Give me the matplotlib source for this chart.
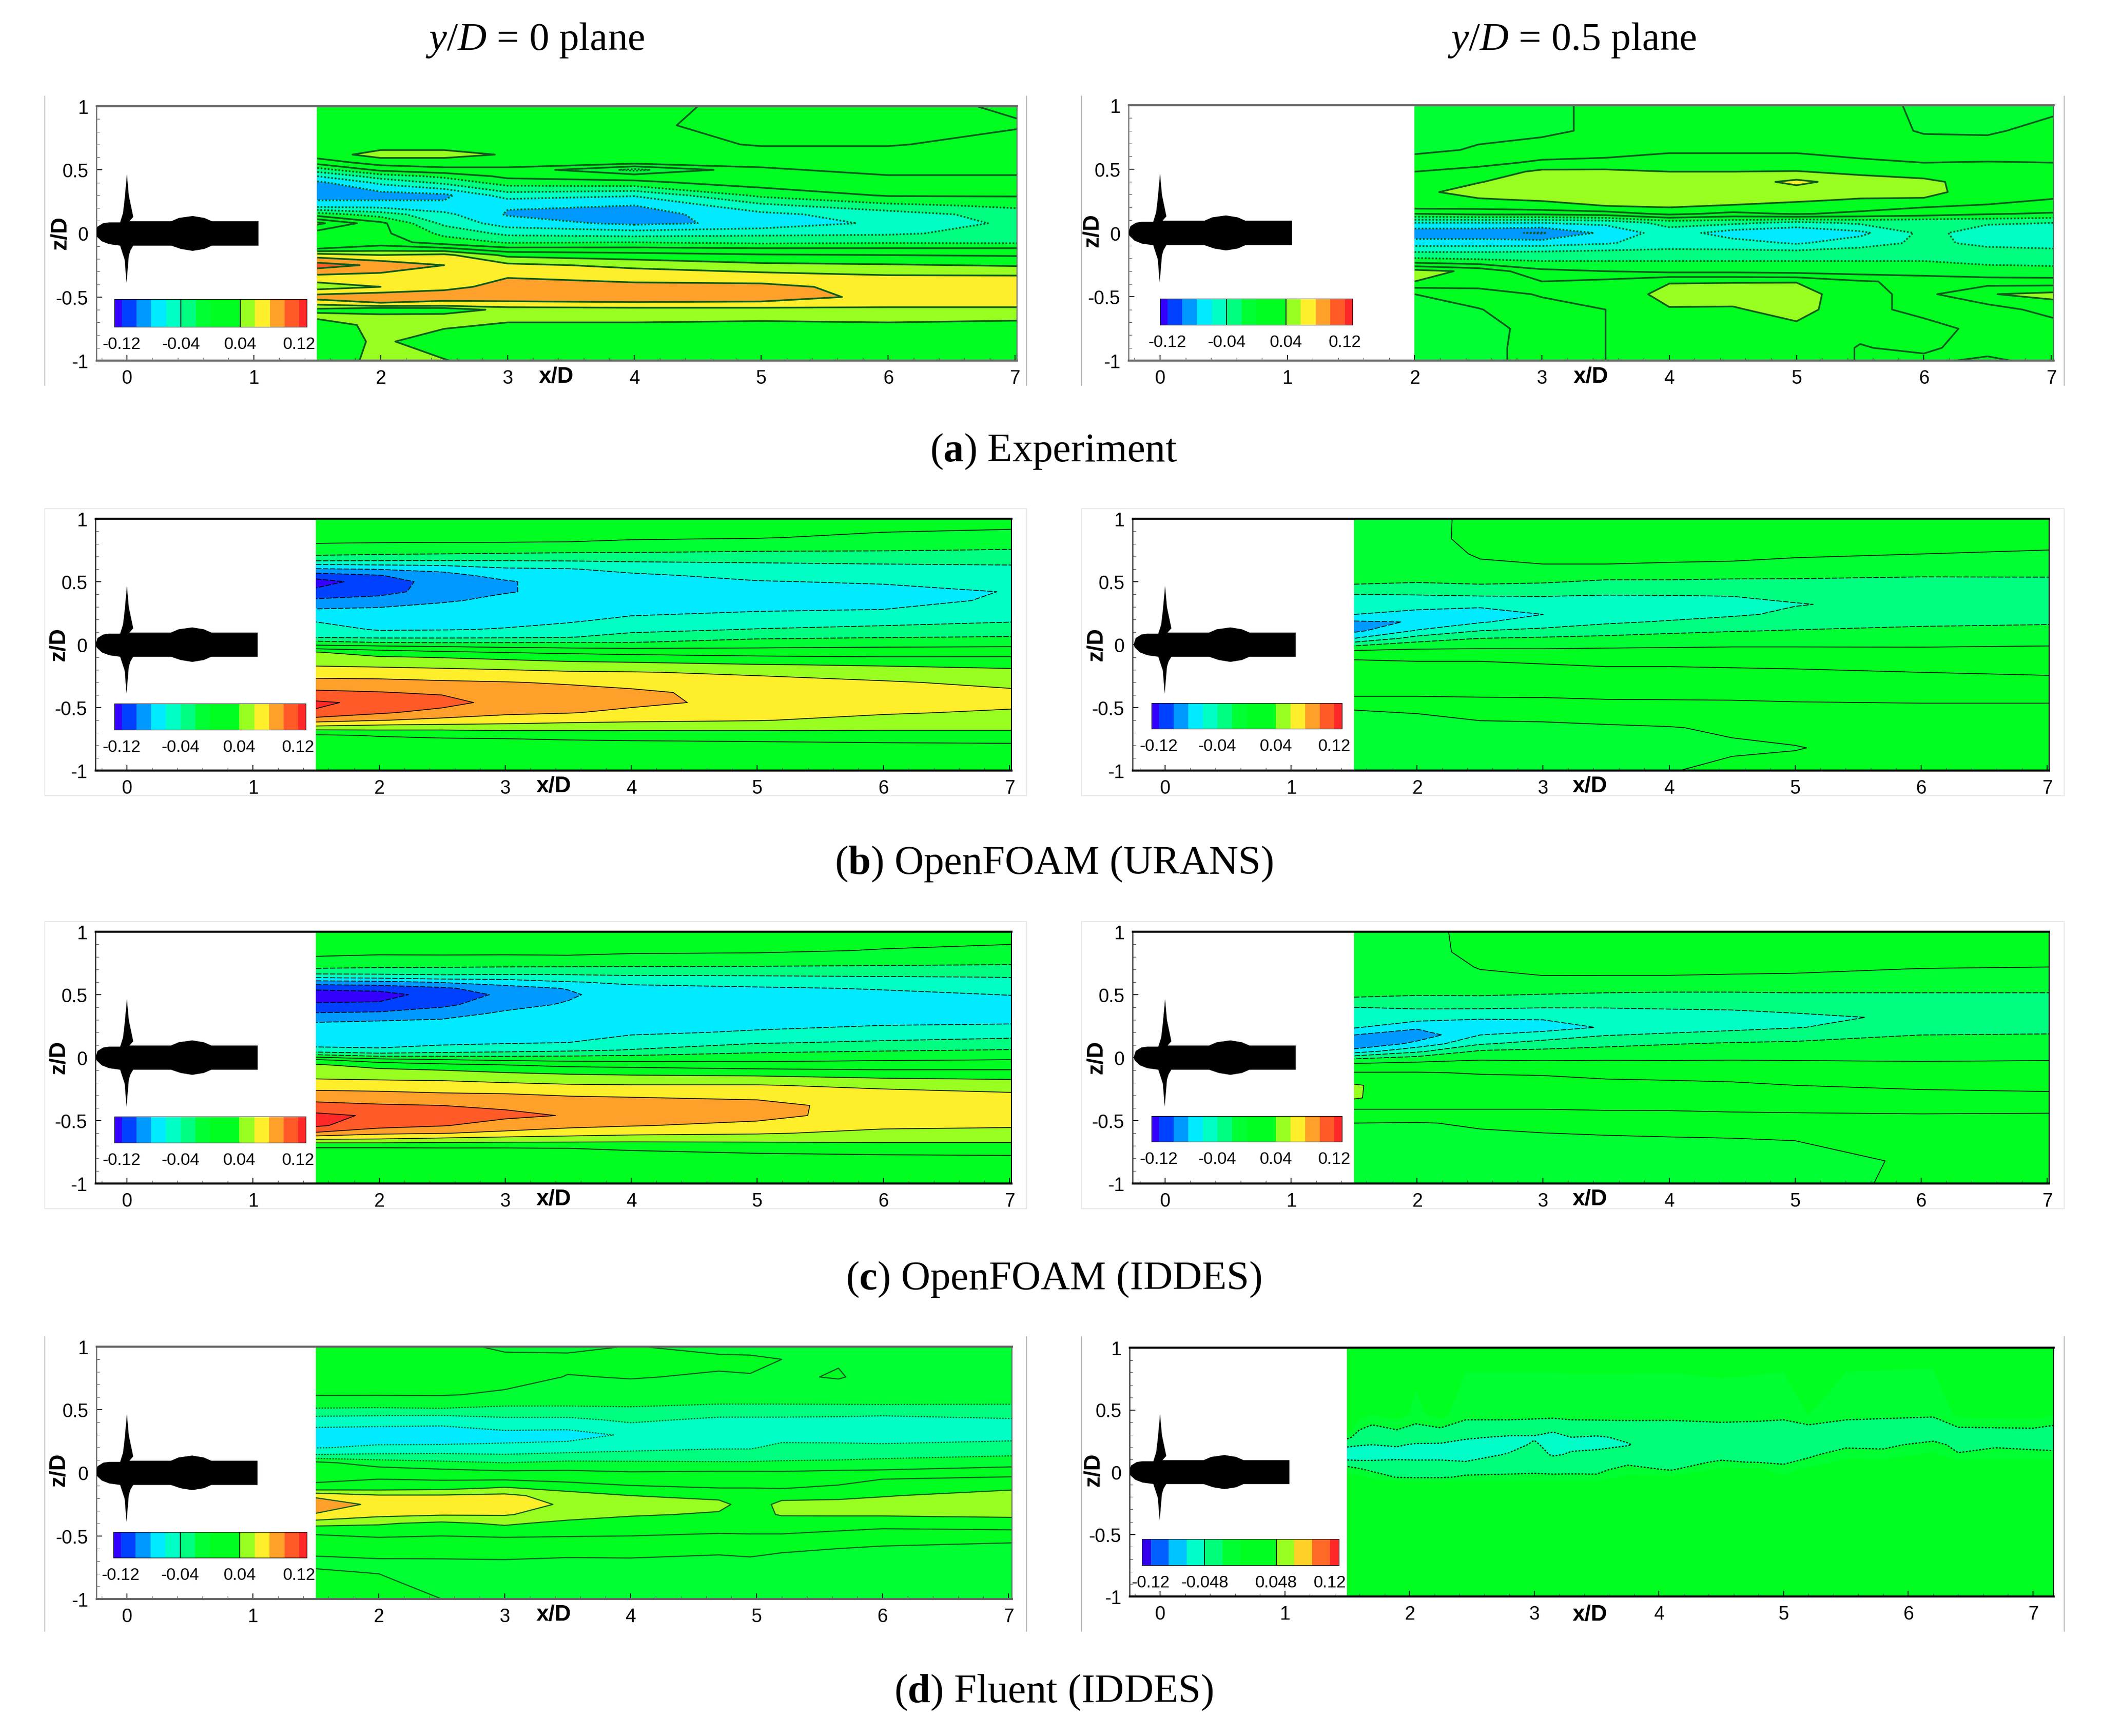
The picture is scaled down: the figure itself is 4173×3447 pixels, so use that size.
import numpy as np
import matplotlib
matplotlib.use('Agg')
import matplotlib.pyplot as plt
from matplotlib.lines import Line2D
from matplotlib.patches import Rectangle

plt.rcParams['font.family'] = ['Liberation Sans', 'DejaVu Sans']
plt.rcParams['axes.unicode_minus'] = False
plt.rcParams['mathtext.fontset'] = 'custom'
plt.rcParams['mathtext.rm'] = 'Liberation Serif'
plt.rcParams['mathtext.it'] = 'Liberation Serif:italic'
plt.rcParams['mathtext.bf'] = 'Liberation Serif:bold'

W, H = 4173, 3448

# band edges and colours (field values are in hundredths below)
LEVELS = [-0.12, -0.10, -0.08, -0.06, -0.04, -0.02, 0, 0.02, 0.04, 0.06, 0.08, 0.10, 0.12]
COLOURS = ['#3300ff', '#0040ff', '#0099ff', '#00ebff', '#00ffc4', '#00ff80', '#00ff33',
           '#00ff20', '#00ff20', '#99ff20', '#ffee2a', '#ffa02a', '#ff5a28', '#ff2828']
LEVELS_D = [-0.12, -0.096, -0.072, -0.048, -0.024, 0, 0.024, 0.048, 0.072, 0.096, 0.12]
COLOURS_D = ['#3300ee', '#0060ff', '#00c4ff', '#00ffc8', '#00ff78', '#00ff30',
             '#00ff20', '#00ff20', '#99ff20', '#ffd028', '#ff6a28', '#ff2828']

# propeller and hull outline, x/D and z/D
BODY_X = [-0.25, -0.233, -0.187, -0.141, -0.054, -0.031, -0.018, 0.0, 0.015, 0.05, 0.02, 0.058, 0.349, 0.41, 0.518,
          0.61, 0.67, 1.037, 1.037, 0.67, 0.61, 0.518, 0.426, 0.349, 0.05, 0.028, 0.015, -0.003, -0.018, -0.054,
          -0.141, -0.2, -0.24]
BODY_Z = [0.0, 0.053, 0.081, 0.087, 0.087, 0.16, 0.27, 0.466, 0.298, 0.13, 0.096, 0.096, 0.096, 0.122, 0.137,
          0.122, 0.096, 0.096, -0.096, -0.096, -0.122, -0.137, -0.122, -0.096, -0.096, -0.133, -0.176, -0.389,
          -0.206, -0.096, -0.084, -0.061, -0.023]

# (a) experiment, y/D = 0
A_LEFT_X = [1.5, 2, 2.5, 3, 4, 5, 6, 7.05]
A_LEFT_Z = [1, .85, .7, .62, .56, .5, .45, .4, .3, .22, .15, .08, 0, -.07, -.12, -.17, -.25, -.35, -.42, -.5, -.56, -.6,
            -.65, -.72, -.85, -1]
A_LEFT_U = [
    [3, 3, 3, 3, 1, -3, -6, -8.5, -9, -7, -1, 4.5, 1, 1, 2, 7, 11, 7, 5, 9, 6, 3.5, 4.5, 3, 3, 3],
    [3, 3, 3, 4.8, 3, .5, -3, -5.5, -9, -7, -3, .5, .5, 1, 3, 6, 9.5, 7, 6, 9.5, 7.5, 2, 4.8, 4.6, 4.3, 4.5],
    [3, 3, 3, 4.8, 3, 1.5, -1.5, -3.5, -8.5, -7.5, -5.5, -4.5, -2.5, -1, 2.5, 6.5, 8, 7, 7.5, 9, 7, 2.5, 4.8, 4.3, 3, 4.1],
    [3, 3, 3, 3.8, 3, 1.5, .5, -1, -5, -7.8, -8.2, -7, -4.5, -2.2, .5, 3.5, 6.5, 8, 8.6, 9, 7.2, 4.8, 4.5, 3.8, 3, 3],
    [3, 2.5, 3, 3, 3, -2.5, 1, -.5, -5.8, -8, -9, -8.5, -5, -2, .5, 2.8, 5.5, 7.5, 8.5, 9, 7.5, 5, 4.5, 3.8, 3, 3],
    [1, 1, 1.8, 3, 3, 1.5, 1, 1, -1.5, -4.5, -6.5, -7.5, -4.5, -2.5, .2, 2.2, 4.5, 7.2, 8.5, 8.7, 7.5, 5, 4.5, 3.6, 3, 3],
    [1, 1, 1.8, 3, 3, 3, 1.8, 1.2, .2, -2.5, -5, -5.5, -4.3, -2.3, .2, 2, 4.2, 6.5, 7.3, 7.6, 7, 5, 4.5, 3.8, 3, 3],
    [2.5, 1.8, 3, 3, 3, 3, 1.8, 1, .2, -1.5, -3, -3.5, -3.2, -2.4, .2, 1.8, 3.8, 6.5, 7.2, 7.5, 7, 5, 4.5, 3.5, 3, 3],
]

# (a) experiment, y/D = 0.5
A_RIGHT_X = [2, 2.5, 3, 3.5, 4, 4.5, 5, 5.5, 6, 6.5, 7.05]
A_RIGHT_Z = [1, .8, .65, .55, .48, .4, .32, .26, .2, .15, .08, 0, -.08, -.15, -.22, -.3, -.38, -.48, -.6, -.75, -.9, -1]
A_RIGHT_U = [
    [-.5, -.5, -.5, 1, 2, 2.5, 3.5, 3.2, 2.5, 0, -6, -9.5, -7, -4, -1, 4.8, 4, 0, -.5, -.5, -.5, -.5],
    [-.5, -.5, .2, 1.5, 2.6, 3.9, 4.8, 3.8, 2.5, .5, -6, -9.5, -7, -4, -1.5, 3.5, 3.2, 1, -.1, -.5, -.5, -.5],
    [-.5, -.5, 1, 2.3, 4.5, 5, 5, 4.2, 3, .5, -6, -10.2, -7, -3.8, -2, .5, 2, 2.2, 1.2, .5, .6, .6],
    [.5, .5, 1.2, 2.5, 4.5, 5, 5, 4.8, 3.8, 1, -5.5, -7.5, -6.2, -3.5, -2, 0, 2.5, 3, 2, 2, 2, 2],
    [1, 1, 1.8, 2.6, 4, 5, 5.5, 5, 4, 2.5, -3.2, -5, -5, -3.5, -2, -.5, 3.9, 4.5, 3.9, 3, 3, 3],
    [1, 1, 1.8, 2.6, 4, 5, 5.5, 5, 3.5, 1.5, -3.5, -7, -5.2, -3.5, -2, -.5, 3.9, 4.8, 3.8, 3, 3, 3],
    [1, 1, 1.8, 2.6, 4.1, 6.5, 5, 4.4, 3, 2.2, -4.5, -7.8, -6.2, -3.5, -2, -.8, 3.9, 5, 4.8, 3.5, 3, 3],
    [1, 1, 1.2, 2.4, 3.5, 5, 5, 3.8, 2.8, 1.5, -3.6, -6.5, -5, -3, -2, -1, 2.2, 2.5, 2.5, 2.4, 1.9, 1.9],
    [-.5, -.2, 1, 2, 3, 4.5, 4.6, 3.8, 2, 1, -3.8, -3.5, -3.5, -3, -2, -1.2, 1.5, 1.5, 1.5, 2.6, 2.4, 1.5],
    [-.5, -.3, 1, 2.1, 2.5, 3, 3, 2.8, 1.5, .2, -3.8, -4.8, -4.5, -3.3, -2.3, -1.5, 1, 3.9, 1, 1.5, 1, 2.5],
    [-.5, .8, 1, 2, 2.5, 3, 3, 1.8, 1.2, -.3, -4, -5.5, -4.8, -3.5, -2.5, -1.5, .8, 4.6, 3, 1, 1, 1],
]

# (b), (c) OpenFOAM, y/D = 0
OF_LEFT_X = [1.5, 2, 2.5, 3, 3.5, 4, 5, 6, 7.05]
OF_LEFT_Z = [1, .85, .75, .68, .64, .6, .55, .5, .42, .35, .28, .2, .12, .06, .02, -.02, -.06, -.1, -.16, -.22, -.3, -.38,
             -.46, -.54, -.6, -.64, -.68, -.72, -.8, -1]
B_LEFT_U = [
    [1, .5, -.6, -3, -5.8, -8.2, -11, -12.8, -11.5, -9.6, -7.9, -6.3, -5.1, -4.2, -1.5, 1, 4.1, 5, 5.8, 7, 8.7, 10.4, 12.3, 11.8, 8.9, 6.4, 3.8, 1.8, 1.2, 1],
    [1, .6, -.9, -3.2, -5.6, -7.9, -10.1, -11, -10.8, -9.1, -7.7, -6.9, -6.2, -4.4, -2.2, .7, 2.9, 4.2, 5.6, 6.9, 8.6, 10.1, 11.5, 10.3, 8.1, 5.9, 3.9, 2.1, 1.2, 1],
    [1, .6, -1, -3.4, -5.4, -7.5, -8.6, -9.2, -9, -8.2, -7.4, -6.8, -6.1, -4.4, -2.3, .3, 2.3, 3.9, 5.4, 6.7, 8.3, 9.7, 10.9, 9.2, 7.5, 5.7, 3.9, 2.3, 1.2, 1],
    [1, .7, -1.2, -3.5, -5, -6.3, -7.4, -8.2, -8.1, -7.6, -7.2, -6.5, -5.9, -4.3, -2.2, -.1, 1.9, 3.5, 5.1, 6.5, 8.1, 9, 9.1, 8.4, 7, 5.6, 4.1, 2.4, 1.2, 1],
    [1, .7, -1.4, -3.5, -4.8, -6.1, -6.6, -7.2, -7.6, -7.5, -7, -6.4, -5.2, -4.1, -2.1, -.3, 1.6, 3, 4.8, 6.2, 7.8, 8.7, 8.7, 8.1, 6.6, 5.4, 4.1, 2.6, 1.3, 1],
    [1, .3, -1.5, -3.4, -4.5, -5.5, -6.3, -6.8, -7.4, -7.3, -6.7, -5.6, -4.5, -3.3, -2.1, -.4, 1.3, 2.8, 4.6, 6.1, 7.5, 8.3, 8.4, 7.6, 6.3, 5.4, 4.1, 2.8, 1.3, 1],
    [1, .1, -1.8, -3.4, -4.2, -4.8, -5.5, -6.1, -6.8, -6.8, -6.2, -5.2, -3.9, -2.4, -1.3, -.2, 1.1, 2.3, 4.1, 5.7, 6.6, 7.4, 7.5, 7, 6.1, 5.1, 4.1, 3, 1.4, 1],
    [1, -.4, -1.9, -3.3, -4, -4.5, -5.2, -5.8, -6.6, -6.6, -6, -4.8, -3.5, -2.1, -1.1, 0, 1, 2.1, 3.8, 5, 6.2, 6.8, 6.9, 6.2, 5.4, 4.7, 4, 3.1, 1.6, 1],
    [1, -.8, -2.1, -3.3, -3.95, -4.2, -4.7, -5.2, -5.9, -5.7, -5, -4.3, -3.1, -1.9, -1, .1, 1.1, 2.1, 3.5, 4.5, 5.5, 6.3, 6.5, 5.7, 5, 4.5, 4, 3.2, 1.7, 1],
]
C_LEFT_U = [
    [1, .5, -.6, -3, -5.6, -8.8, -11.7, -12.8, -11.8, -9.8, -8, -7, -6.7, -5.5, -1.7, 2.4, 4.3, 5, 5.8, 7.1, 8.9, 10.6, 12.5, 12.3, 9.7, 6.6, 3.8, 1.8, 1.2, 1],
    [1, .5, -1, -3, -5.3, -8.5, -11.4, -12.7, -11.7, -9.6, -7.7, -7, -6.5, -5.8, -2.9, 1, 3.2, 4.4, 5.6, 7, 8.7, 10.2, 11.7, 10.8, 8.4, 6.4, 3.8, 1.8, 1.2, 1],
    [1, .6, -1.1, -3, -4.8, -7.8, -10.4, -11.2, -10.5, -8.7, -7.6, -7, -6.4, -5.2, -2.7, .3, 2.6, 4, 5.5, 6.8, 8.4, 10, 11, 10.1, 8.1, 5.9, 3.7, 1.9, 1.2, 1],
    [1, .6, -1.2, -3.1, -4.9, -7.2, -8.7, -9.6, -8.6, -7.7, -7.2, -6.8, -6.2, -4.8, -2.6, -.2, 2.1, 3.5, 5.1, 6.5, 8.3, 9.7, 10.4, 9.2, 7.5, 5.5, 3.6, 1.9, 1.2, 1],
    [1, .7, -1.2, -3.2, -4.7, -6.1, -7.9, -8.3, -7.8, -7.5, -7.1, -6.5, -6, -4.4, -2.4, -.4, 1.5, 3.1, 4.8, 6.2, 7.9, 9.3, 9.9, 8.5, 6.9, 5.3, 3.6, 2, 1.3, 1],
    [1, .4, -1.3, -3.1, -4.4, -5.7, -6.4, -6.9, -7.6, -7.6, -7.1, -6.3, -5.1, -3.9, -2.1, -.5, 1.3, 2.9, 4.6, 6.1, 7.8, 8.9, 9.1, 8.1, 6.5, 5.1, 3.6, 2.2, 1.3, 1],
    [1, .3, -1.4, -3.1, -4.3, -5.3, -6.2, -6.4, -7.2, -7.2, -6.6, -5.8, -4.2, -2.6, -1.5, -.4, .9, 2.4, 4.5, 6.1, 7.6, 8.5, 8.6, 7.5, 6.2, 5, 3.7, 2.6, 1.4, 1],
    [1, -.1, -1.6, -3.1, -4.1, -4.9, -5.9, -6.3, -6.8, -6.8, -6.3, -5.3, -3.7, -2.2, -1.2, -.1, 1, 2.1, 3.9, 5.6, 6.7, 7.3, 7.1, 6.4, 5.5, 4.7, 3.9, 2.9, 1.5, 1],
    [1, -.5, -1.8, -3.1, -3.95, -4.5, -5.2, -5.95, -6.5, -6.6, -6.2, -4.9, -3.3, -1.9, -1, .1, 1.1, 2.1, 3.7, 5, 6.4, 6.8, 6.8, 6.2, 5.4, 4.7, 3.9, 3, 1.6, 1],
]

# (b), (c) OpenFOAM, y/D = 0.5
OF_RIGHT_X = [1.5, 2, 2.5, 3, 3.5, 4, 4.5, 5, 6, 7.05]
OF_RIGHT_Z = [1, .84, .72, .64, .55, .48, .4, .32, .24, .18, .11, .05, -.01, -.05, -.12, -.22, -.32, -.41, -.52, -.66, -.82, -1]
B_RIGHT_U = [
    [-.5, -.6, -.8, -1, -1.6, -2, -4, -5, -6, -8.3, -8.5, -6, -2, .2, 2, 2.8, 2.6, 2, 0, -.4, -.5, -.5],
    [-.5, -.6, -.9, -1.1, -1.6, -2.1, -3.9, -5.3, -6.6, -7.9, -5.8, -3.2, -.7, .4, 1.9, 2.7, 2.6, 2, .1, -.4, -.5, -.5],
    [.4, .5, .2, -.2, -1.3, -2, -3.7, -5.4, -7.2, -6.2, -4, -2, -.5, .4, 1.9, 2.7, 2.6, 2.1, .6, -.4, -.5, -.5],
    [1, 1, .5, 0, -1.4, -2.1, -3.7, -5.1, -6, -4.9, -3.6, -1.7, -.4, .3, 1.7, 2.6, 2.5, 2.1, 1, -.5, -.5, -.5],
    [1, 1, .5, 0, -1.6, -2.4, -3.9, -5.1, -5, -4.3, -2.9, -1.5, -.3, .4, 1.4, 2.5, 2.5, 2.2, 1.3, -.3, -.5, -.5],
    [1, 1, .5, -.1, -1.5, -2.5, -3.9, -4.8, -4.8, -3.8, -2.4, -1.3, -.2, .4, 1.4, 2.5, 2.5, 2.2, 1.4, -.1, -.5, -.1],
    [1, 1, .5, -.2, -1.6, -2.6, -3.8, -4.8, -4.3, -3.2, -2.1, -1.1, -.1, .4, 1.3, 2.4, 2.5, 2.2, 1.5, .3, -.3, .5],
    [1, 1, .3, -.5, -1.7, -2.5, -3.5, -4.1, -3.6, -2.8, -1.9, -1, -.1, .4, 1.2, 2.3, 2.4, 2.2, 1.7, .7, -.1, .7],
    [1.2, 1, 0, -.9, -1.9, -2.5, -3, -3.4, -2.9, -2.3, -1.7, -.9, -.1, .3, 1, 2, 2.3, 2.2, 1.8, 1.2, 1, 1],
    [1.4, .8, -.3, -1, -1.9, -2.4, -3, -3.3, -2.8, -2.2, -1.5, -.8, 0, .3, 1, 1.9, 2.3, 2.2, 1.8, 1.2, 1, 1],
]
C_RIGHT_U = [
    [-.5, -.6, -.8, -1, -1.6, -2, -4, -5, -5.8, -8, -10, -7, -2, .2, 2.1, 4.2, 4.2, 2, 0, -.4, -.5, -.5],
    [-.5, -.6, -.9, -1.1, -1.6, -2.1, -3.8, -5, -7.6, -9.3, -7.4, -4.4, -.9, .5, 2.1, 2.9, 2.7, 2, -.1, -.4, -.5, -.5],
    [.5, .5, .1, -.3, -1.5, -2.1, -3.7, -5.7, -7.3, -6, -4.2, -1.7, -.2, .6, 1.9, 2.7, 2.6, 2, .2, -.4, -.5, -.5],
    [1, 1, .6, -.1, -1.4, -2.3, -3.9, -5.7, -6.9, -5.2, -3.2, -1.5, -.3, .5, 1.8, 2.7, 2.6, 2, .5, -.4, -.5, -.5],
    [1, 1, .5, -.1, -1.6, -2.4, -3.9, -5.3, -5.8, -4.1, -2.5, -1.3, -.2, .5, 1.5, 2.5, 2.5, 2.1, .9, -.4, -.5, -.5],
    [1, 1, .5, -.1, -1.7, -2.4, -3.8, -4.9, -4.9, -3.7, -2.1, -1.1, -.2, .4, 1.4, 2.4, 2.5, 2.1, 1.1, -.3, -.5, -.5],
    [1, 1, .5, -.2, -1.7, -2.4, -3.7, -4.8, -4.6, -3.2, -1.8, -1, -.1, .3, 1.2, 2.3, 2.4, 2.2, 1.2, -.2, -.5, -.5],
    [1, 1, .5, -.3, -1.7, -2.3, -3.3, -4.5, -4.1, -2.8, -1.7, -.9, -.1, .2, 1, 2, 2.4, 2.2, 1.4, 0, -.5, -.5],
    [1.1, 1, .1, -.6, -1.8, -2.2, -3, -3.6, -2.9, -2, -1.3, -.8, -.2, .2, .9, 1.8, 2.4, 2.2, 1.6, .6, .2, .3],
    [1.2, .8, 0, -.6, -1.8, -2.2, -3, -3.3, -2.6, -1.9, -1.3, -.7, -.1, .2, .8, 1.7, 2.3, 2.2, 1.5, 1, 1, 1],
]

# (d) Fluent, y/D = 0
D_LEFT_X = [1.5, 2, 2.5, 3, 3.5, 4, 4.7, 4.95, 5.2, 5.65, 6, 7.05]
D_LEFT_Z = [1, .9, .76, .62, .55, .48, .42, .3, .2, .14, .08, .02, -.05, -.12, -.18, -.25, -.33, -.4, -.46, -.52, -.6, -.7, -.85, -1]
D_LEFT_U = [
    [.5, .5, .4, .1, -1, -2.9, -5, -7, -6.1, -3.8, .5, 1, 1.5, 2.8, 7.5, 9.5, 7.8, 5, 2.2, 1.8, .3, -.2, .3, .3],
    [.5, .5, .5, .1, -1.1, -3, -5.2, -7, -5.7, -3.6, -1, .8, 2, 3.2, 6.2, 7.4, 6.6, 4.2, 3.2, 1.8, .8, -.2, .1, .3],
    [.5, .5, .4, .1, -.8, -3, -5.4, -6.9, -5.7, -3.5, -1.6, .3, 1.8, 3.4, 6.2, 7.2, 6.2, 3.6, 2.6, 1.7, .9, -.2, -.3, 0],
    [-.3, .4, .5, -.2, -1.5, -3.2, -4.4, -6.7, -5.6, -3.8, -2, -.1, 1.8, 4.2, 6.5, 7.3, 6.2, 4.3, 3.2, 1.8, .7, -.1, -.4, -.5],
    [-.3, .3, -.05, -.3, -1.6, -3, -4.5, -6.8, -5.2, -3.4, -1.6, 0, 1.4, 3.2, 5, 5.6, 4.9, 3.5, 2.6, 1.8, .5, -.2, -.4, -.5],
    [.05, .3, .05, -.4, -1.7, -2.5, -3.6, -5.7, -4.6, -3.3, -1.7, -.2, 1, 2.4, 4, 5, 4.2, 3.2, 2.6, 1.7, .3, -.1, -.5, -.5],
    [-.3, .2, -.1, -.6, -1.9, -3.3, -4.4, -5.4, -4.2, -3.1, -1.8, -.1, .8, 2, 3.5, 4.5, 3.8, 2.9, 2.2, 1.6, .1, -.1, -.5, -.5],
    [-.4, .2, -.05, -.7, -1.9, -3.3, -4.4, -5.4, -4.2, -3.1, -1.8, -.1, .8, 2, 3, 3.2, 3.2, 2.8, 2.2, 1.7, .2, -.1, -.5, -.5],
    [-.4, 0, -.2, -.7, -1.9, -3.3, -4.4, -4.9, -3.4, -2.8, -1.7, -.1, .7, 1.9, 3.5, 4.4, 4.2, 2.9, 2.2, 1.7, .1, -.2, -.5, -.5],
    [-.5, -.1, .1, -.75, -1.85, -3.3, -4.5, -5, -3.4, -2.7, -1.6, 0, 1.2, 2.4, 3.6, 4.5, 4.2, 3, 2, 1.1, 0, -.2, -.5, -.5],
    [-.5, -.5, -.5, -.8, -1.8, -3.4, -4.7, -5.3, -3.4, -2.5, -1.4, .1, 2, 3.2, 3.9, 4.6, 4.2, 3, 1.6, .3, -.1, -.3, -.5, -.5],
    [-.5, -.5, -.5, -.8, -1.9, -3, -4.2, -4.6, -3.3, -2.1, -.8, .7, 2.5, 3.8, 4.6, 4.8, 4.4, 3.2, 1.8, .3, -.4, -.5, -.5, -.5],
]

# (d) Fluent, y/D = 0.5
D_RIGHT_X = [1.5, 1.6, 1.7, 1.9, 2.05, 2.25, 2.45, 2.8, 3, 3.15, 3.3, 3.5, 3.75, 4.1, 4.5, 4.8, 5, 5.2, 5.5, 5.8, 6.2,
             6.4, 6.7, 7, 7.2]
D_RIGHT_Z = [1, .46, .34, .28, .22, .14, .08, .02, -.04, -.08, -.2, -1]
D_RIGHT_U = [
    [1, 1, 1, -1.8, -4.5, -5.8, -4.4, -.9, .8, .8, 1, 1],
    [1, 1, -2.4, -3.6, -4.7, -5.8, -4.5, -2, .6, .8, 1, 1],
    [1, 0, -3.6, -3.6, -4.8, -5.8, -4.5, -3, -.5, .8, 1, 1],
    [1, 1, -2.4, -3.6, -4.6, -5.6, -4.4, -3.6, -2.6, .6, 1, 1],
    [1, -.6, -3.6, -3.8, -5, -5.6, -4.5, -3.6, -2.8, .4, 1, 1],
    [1, .8, -2.9, -4, -5, -5.8, -4.4, -3.6, -2.8, .4, 1, 1],
    [1, -1.8, -3.6, -4.5, -5.6, -5.8, -4.7, -3.5, -2, .6, 1, 1],
    [1, -1.8, -3.6, -5.1, -5.6, -4.6, -3.8, -3, -2, .4, 1, 1],
    [1, -1.8, -4, -5, -4.5, -4, -3.6, -3, -1.8, .5, 1, 1],
    [1, -1.8, -4.5, -5.5, -5.5, -5, -3.8, -3, -2, .4, 1, 1],
    [1, -1.6, -4, -4.8, -5.2, -4.6, -3.7, -3.2, -1.8, .5, 1, 1],
    [1, -1.6, -3.9, -5, -5.4, -4.2, -3.6, -3, -2, .4, 1, 1],
    [1, -1.6, -3.7, -4.5, -4.9, -3.9, -3, -1.5, .6, .8, 1, 1],
    [1, -1.7, -3.6, -3.7, -3.7, -3.6, -3, -2.6, .6, .8, 1, 1],
    [1, -1.2, -3.6, -3.7, -3.7, -3, -2.2, .4, .8, 1, 1, 1],
    [1, -1.5, -3.6, -3.7, -3.6, -3.2, -2.5, .5, .8, 1, 1, 1],
    [1, -1.8, -3.6, -3.7, -3.6, -3.4, -2.8, -1.4, .5, 1, 1, 1],
    [1, 0, -3.6, -3.7, -3.6, -3, -1.6, .8, 1, 1, 1, 1],
    [1, -1.8, -3.6, -3.6, -3.2, -.8, .7, 1, 1, 1, 1, 1],
    [1, -2, -3.6, -3.6, -3, -1.6, .8, 1, 1, 1, 1, 1],
    [1, -2.2, -3.6, -3.4, -1.5, .6, 1, 1, 1, 1, 1, 1],
    [1, .5, -3, -3.4, -3.2, -2.2, .6, 1, 1, 1, 1, 1],
    [1, .8, -2.9, -3.6, -3, -1, .7, 1, 1, 1, 1, 1],
    [1, 1, -2.8, -3.5, -3.2, -1.6, .8, 1, 1, 1, 1, 1],
    [1, 0, -3.6, -3.6, -3.3, -1.8, .6, 1, 1, 1, 1, 1],
]

TITLES = [r'$\mathit{y/D}$ = 0 plane', r'$\mathit{y/D}$ = 0.5 plane']
CAPTIONS = [r'($\mathbf{a}$) Experiment', r'($\mathbf{b}$) OpenFOAM (URANS)',
            r'($\mathbf{c}$) OpenFOAM (IDDES)', r'($\mathbf{d}$) Fluent (IDDES)']


def fig_box(left, right, top, bottom):
    return [left / W, 1 - bottom / H, (right - left) / W, (bottom - top) / H]


def fig_text(fig, x, y, s, **kw):
    fig.text(x / W, 1 - y / H, s, ha='center', va='center', **kw)


def draw_panel(fig, xs, zs, cols, box, x_ref, cbar, xlab, zlab, line='k', lw=1.0, dash=(0, (3, 1.5)), frame='k',
               levels=LEVELS, colours=COLOURS, line_levels=None, cb_ticks=(-0.12, -0.04, 0.04, 0.12), cb_lines=False):
    left, right, top, bottom = box
    x0, x7 = x_ref
    per_d = (x7 - x0) / 7.0
    ax = fig.add_axes(fig_box(left, right, top, bottom))
    u = np.array(cols, dtype=float).T / 100.0
    z = np.array(zs, dtype=float)[::-1]
    u = u[::-1]

    edges = [-9] + list(levels) + [9]
    ax.contourf(xs, z, u, levels=edges, colors=colours)
    if line_levels is None:
        line_levels = levels
    ax.contour(xs, z, u, levels=line_levels, colors=line, linewidths=lw, negative_linestyles=dash)
    ax.fill(BODY_X, BODY_Z, color='k', lw=0, zorder=3)

    ax.set_xlim((left - x0) / per_d, (right - x0) / per_d)
    ax.set_ylim(-1, 1)
    ax.set_xticks(range(8))
    ax.set_xticks([-0.2, 0.2, 0.4, 0.6, 0.8, 1.2, 1.4, 1.6, 1.8, 2.2, 2.4, 2.6, 2.8, 3.2, 3.4, 3.6, 3.8, 4.2, 4.4, 4.6,
                   4.8, 5.2, 5.4, 5.6, 5.8, 6.2, 6.4, 6.6, 6.8], minor=True)
    ax.set_yticks([-1, -0.5, 0, 0.5, 1])
    ax.set_yticklabels(['-1', '-0.5', '0', '0.5', '1'])
    ax.set_yticks(np.arange(-0.9, 1, 0.1), minor=True)
    ax.tick_params(which='major', direction='in', length=8, width=1.2, labelsize=27, pad=12, color='k')
    ax.tick_params(which='minor', direction='in', length=4.5, width=0.8, color='#555555')
    for name in ['top', 'bottom']:
        ax.spines[name].set_linewidth(3)
        ax.spines[name].set_color(frame)
    for name in ['left', 'right']:
        ax.spines[name].set_linewidth(1.5)
        ax.spines[name].set_color(frame)

    # inset colour bar
    cax = fig.add_axes(fig_box(*cbar))
    step = levels[1] - levels[0]
    bar = [levels[0] - step / 2] + list(levels) + [levels[-1] + step / 2]
    for lo, hi, c in zip(bar[:-1], bar[1:], colours):
        cax.axvspan(lo, hi, color=c, lw=0)
    if cb_lines:
        for t in cb_ticks[1:3]:
            cax.axvline(t, color='k', lw=1.2)
    cax.set_xlim(bar[0], bar[-1])
    cax.set_ylim(0, 1)
    cax.set_yticks([])
    cax.set_xticks(cb_ticks)
    cax.set_xticklabels([('%g' % t) for t in cb_ticks])
    cax.tick_params(axis='x', length=0, labelsize=24, pad=14)
    for s in cax.spines.values():
        s.set_linewidth(0.8)

    fig_text(fig, xlab[0], xlab[1], 'x/D', fontsize=32, fontweight='bold')
    fig_text(fig, zlab[0], zlab[1], 'z/D', fontsize=32, fontweight='bold', rotation=90)


def main():
    fig = plt.figure(figsize=(W / 100, H / 100), dpi=100, facecolor='white')

    # faint frames left over round the sub-images
    for x0, x1 in [(89, 2038), (2147, 4098)]:
        for top, bottom in [(192, 766), (2655, 3240)]:
            for x in (x0, x1):
                fig.add_artist(Line2D([x / W, x / W], [1 - top / H, 1 - bottom / H], color='#b0b0b0', lw=1.2))
        for top, bottom in [(1011, 1581), (1831, 2401)]:
            fig.add_artist(Rectangle((x0 / W, 1 - bottom / H), (x1 - x0) / W, (bottom - top) / H, fill=False,
                                     edgecolor='#e4e4e4', lw=1.2, transform=fig.transFigure))

    grey = dict(line='#0e5a1e', lw=2.4, dash=(0, (1, 1.1)), frame='#666666', cb_lines=True)
    thin = dict(line='k', lw=1.1, dash=(0, (7, 2)), frame='k')

    draw_panel(fig, A_LEFT_X, A_LEFT_Z, A_LEFT_U, (192, 2019, 212, 717), (252, 2015), (227, 609, 595, 650),
               (1104, 749), (120, 463), **grey)
    draw_panel(fig, A_RIGHT_X, A_RIGHT_Z, A_RIGHT_U, (2241, 4077, 210, 717), (2303, 4072), (2303, 2685, 594, 646),
               (3158, 749), (2169, 458), **grey)
    draw_panel(fig, OF_LEFT_X, OF_LEFT_Z, B_LEFT_U, (190, 2008, 1031, 1531), (252, 2004), (227, 607, 1398, 1450),
               (1099, 1562), (117, 1280), **thin)
    draw_panel(fig, OF_RIGHT_X, OF_RIGHT_Z, B_RIGHT_U, (2249, 4068, 1031, 1531), (2313, 4064), (2286, 2664, 1397, 1448),
               (3156, 1562), (2177, 1280), **thin)
    draw_panel(fig, OF_LEFT_X, OF_LEFT_Z, C_LEFT_U, (190, 2008, 1851, 2351), (252, 2004), (227, 607, 2218, 2270),
               (1099, 2382), (117, 2100), **thin)
    draw_panel(fig, OF_RIGHT_X, OF_RIGHT_Z, C_RIGHT_U, (2249, 4068, 1851, 2351), (2313, 4064), (2286, 2664, 2217, 2268),
               (3156, 2382), (2177, 2100), **thin)
    draw_panel(fig, D_LEFT_X, D_LEFT_Z, D_LEFT_U, (192, 2009, 2675, 3176), (252, 2002), (225, 609, 3043, 3094),
               (1099, 3207), (117, 2919), line='#0e5a1e', lw=1.6, dash=(0, (1.3, 1.3)), frame='#666666', cb_lines=True)
    draw_panel(fig, D_RIGHT_X, D_RIGHT_Z, D_RIGHT_U, (2243, 4077, 2677, 3171), (2303, 4036), (2267, 2658, 3057, 3109),
               (3156, 3207), (2171, 2919), line='k', lw=1.6, dash=(0, (1.5, 1.5)), frame='k', levels=LEVELS_D,
               colours=COLOURS_D, line_levels=[-0.096, -0.072, -0.048, -0.024],
               cb_ticks=(-0.12, -0.048, 0.048, 0.12), cb_lines=True)

    fig_text(fig, 1062, 80, TITLES[0], family='Liberation Serif', fontsize=57)
    fig_text(fig, 3121, 80, TITLES[1], family='Liberation Serif', fontsize=57)
    for y, s in zip([897, 1716, 2541, 3361], CAPTIONS):
        fig_text(fig, 2092, y, s, family='Liberation Serif', fontsize=58)

    fig.savefig('out.png', dpi=100)


main()
